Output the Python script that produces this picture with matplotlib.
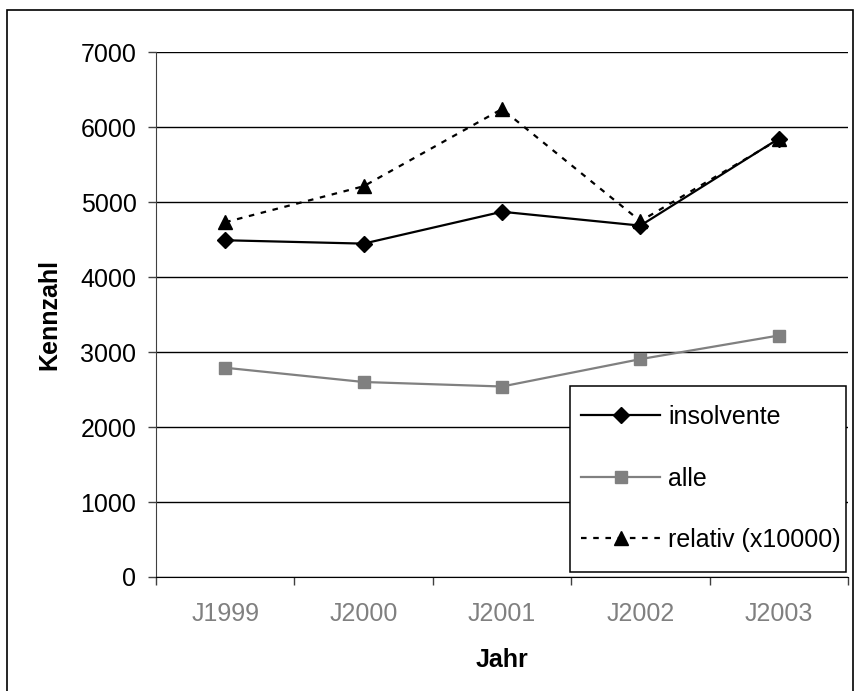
import matplotlib.pyplot as plt
from matplotlib.patches import Rectangle

# Daten
jahre = ["J1999", "J2000", "J2001", "J2002", "J2003"]
insolvente = [4490, 4445, 4870, 4685, 5845]
alle = [2790, 2600, 2540, 2905, 3220]
relativ = [4730, 5210, 6240, 4745, 5835]

plt.rcParams['font.family'] = ['Liberation Sans', 'DejaVu Sans']

fig = plt.figure(figsize=(8.56, 6.91), dpi=100)
ax = fig.add_axes([156 / 856, 1 - 577 / 691, 692 / 856, 525 / 691])

x = list(range(len(jahre)))

ax.plot(x, insolvente, color="black", lw=1.6, marker="D", markersize=8.5,
        label="insolvente", zorder=4)
ax.plot(x, alle, color="#808080", lw=1.6, marker="s", markersize=8.5,
        label="alle", zorder=3)
ax.plot(x, relativ, color="black", lw=1.6, linestyle=(0, (2.5, 3)), marker="^",
        markersize=10.5, label="relativ (x10000)", zorder=5)

# Achsen
ax.set_xlim(-0.5, 4.5)
ax.set_ylim(0, 7000)
ax.set_yticks(range(0, 7001, 1000))
ax.set_xticks(x)
ax.set_xticklabels(jahre, color="#808080", fontsize=18)
ax.set_xticks([i - 0.5 for i in range(6)], minor=True)
ax.tick_params(axis="x", which="major", length=0, pad=18)
ax.tick_params(axis="x", which="minor", length=5.8, width=1, color="#404040")
ax.tick_params(axis="y", length=5.5, width=1, color="#404040", labelsize=18, pad=8.6)

ax.grid(True, axis="y", color="black", lw=1)
ax.set_axisbelow(True)
for s in ["top", "right"]:
    ax.spines[s].set_visible(False)
ax.spines["left"].set_color("#404040")
ax.spines["bottom"].set_color("black")

ax.set_xlabel("Jahr", fontsize=18, fontweight="bold", labelpad=16)
ax.set_ylabel("Kennzahl", fontsize=18, fontweight="bold", labelpad=14)

# Legendenrahmen separat, damit Groesse wie im Original
box = Rectangle((570 / 856, 1 - 572 / 691), 276 / 856, 186 / 691,
                transform=fig.transFigure, facecolor="white", edgecolor="black",
                lw=1.1, zorder=6, clip_on=False)
ax.add_patch(box)

leg = ax.legend(loc="upper left", bbox_to_anchor=(581 / 856, 1 - 405 / 691),
                bbox_transform=fig.transFigure, borderaxespad=0, fontsize=18,
                handlelength=3.16, labelspacing=1.5, handletextpad=0.32,
                borderpad=0, frameon=False)
leg.set_zorder(7)

# Rahmen um das ganze Diagramm
fig.patches.append(Rectangle((7 / 856, -0.05), 846 / 856, 1.05 - 10 / 691,
                             transform=fig.transFigure, fill=False,
                             edgecolor="black", lw=1.2))

plt.savefig("out.png")
